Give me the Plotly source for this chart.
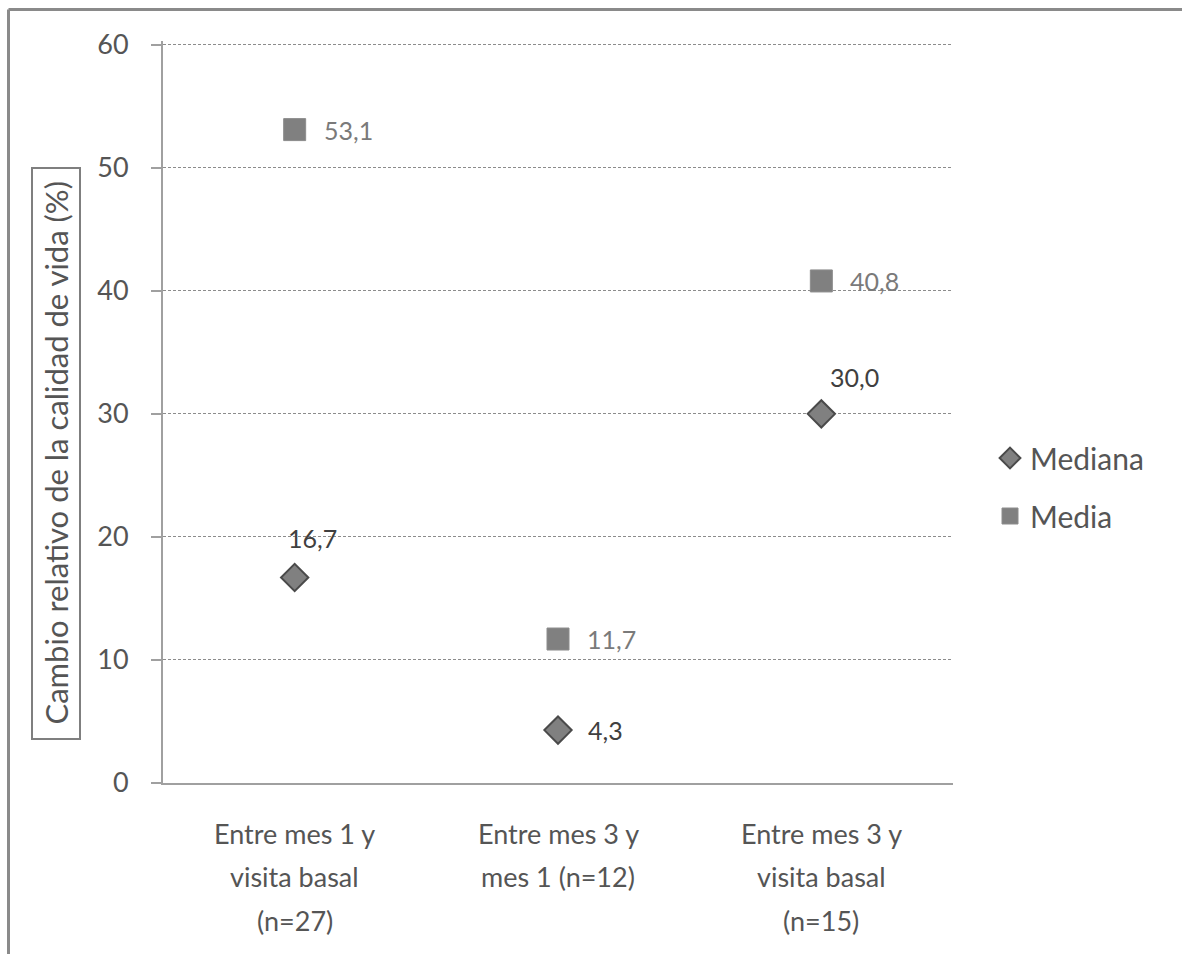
import plotly.graph_objects as go

categories = ["Entre mes 1 y<br>visita basal<br>(n=27)",
              "Entre mes 3 y<br>mes 1 (n=12)",
              "Entre mes 3 y<br>visita basal<br>(n=15)"]
mediana = [16.7, 4.3, 30.0]
media = [53.1, 11.7, 40.8]
y_ticks = [0, 10, 20, 30, 40, 50, 60]

FONT = "Lato"
DARK = "#404040"
GRAY = "#555555"
MARK = "#808080"

W, H = 1182, 954
L, R, T, B = 163, 229, 41, 171
PW, PH = W - L - R, H - T - B
Y_MAX = 60.3

def px_x(p):
    return (p - L) / PW

def px_y(p):
    return (H - B - p) / PH

def fmt(v):
    return f"{v:.1f}".replace(".", ",")

fig = go.Figure()
fig.add_trace(go.Scatter(
    x=categories, y=mediana, mode="markers", name="Mediana",
    legendgroup="a",
    marker=dict(symbol="diamond", size=21, color=MARK,
                line=dict(color="#4a4a4a", width=2)),
))
fig.add_trace(go.Scatter(
    x=categories, y=media, mode="markers", name="Media",
    legendgroup="b",
    marker=dict(symbol="square", size=22, color=MARK,
                line=dict(color="#8c8c8c", width=1)),
))

# data labels
med_off = [(18, 40, "center"), (28, 0, "left"), (33, 37, "center")]
mea_off = [(27, 0, "left"), (27, 0, "left"), (27, 0, "left")]
annotations = []
for c, v, (xs, ys, xa) in zip(categories, mediana, med_off):
    annotations.append(dict(x=c, y=v, xref="x", yref="y", text=fmt(v),
                            showarrow=False, xanchor=xa, yanchor="middle",
                            xshift=xs, yshift=ys,
                            font=dict(family=FONT, size=25, color=DARK)))
for c, v, (xs, ys, xa) in zip(categories, media, mea_off):
    annotations.append(dict(x=c, y=v, xref="x", yref="y", text=fmt(v),
                            showarrow=False, xanchor=xa, yanchor="middle",
                            xshift=xs, yshift=ys,
                            font=dict(family=FONT, size=25, color="#7a7a7a")))

# category labels (one annotation per line, Excel-like line spacing)
line_centers_px = [833, 877, 920]
for c in categories:
    for i, line in enumerate(c.split("<br>")):
        annotations.append(dict(
            x=c, y=px_y(line_centers_px[i]), xref="x", yref="paper",
            text=line, showarrow=False, xanchor="center", yanchor="middle",
            font=dict(family=FONT, size=27, color=GRAY)))

# y-axis title in a box
annotations.append(dict(
    x=px_x(56), y=px_y(453.5), xref="paper", yref="paper",
    text="Cambio relativo de la calidad de vida (%)", textangle=-90,
    showarrow=False, xanchor="center", yanchor="middle",
    font=dict(family=FONT, size=31, color=GRAY)))

shapes = [
    dict(type="rect", xref="paper", yref="paper",
         x0=px_x(32), x1=px_x(80), y0=px_y(739), y1=px_y(168),
         line=dict(color="#7f7f7f", width=2)),
    dict(type="line", xref="paper", yref="paper",
         x0=px_x(8.5), x1=px_x(1190), y0=px_y(9.5), y1=px_y(9.5),
         line=dict(color="#8a8a8a", width=3)),
    dict(type="line", xref="paper", yref="paper",
         x0=px_x(8.5), x1=px_x(8.5), y0=px_y(9.5), y1=px_y(960),
         line=dict(color="#8a8a8a", width=3)),
]

fig.update_layout(
    width=W, height=H,
    margin=dict(l=L, r=R, t=T, b=B, pad=0),
    paper_bgcolor="white", plot_bgcolor="white",
    font=dict(family=FONT, color=GRAY),
    showlegend=True,
    legend=dict(x=px_x(990), y=px_y(432), xanchor="left", yanchor="top",
                font=dict(family=FONT, size=30, color=GRAY),
                tracegroupgap=16, itemwidth=30,
                bgcolor="rgba(0,0,0,0)"),
    annotations=annotations,
    shapes=shapes,
    xaxis=dict(
        type="category", range=[-0.5, 2.5],
        showline=True, linecolor="#a0a0a0", linewidth=2,
        showgrid=False, ticks="", zeroline=False,
        showticklabels=False,
    ),
    yaxis=dict(
        range=[0, Y_MAX], tickvals=y_ticks,
        showline=True, linecolor="#a0a0a0", linewidth=2,
        ticks="outside", ticklen=10, tickcolor="#a0a0a0", tickwidth=2,
        showgrid=True, gridcolor="#8c8c8c", gridwidth=1, griddash="3px,2px",
        zeroline=False,
        tickfont=dict(family=FONT, size=27, color=GRAY),
        ticklabelstandoff=17,
    ),
)

fig.write_html("out.html", config={"displayModeBar": False},
               post_script="document.body.style.margin='0';")
